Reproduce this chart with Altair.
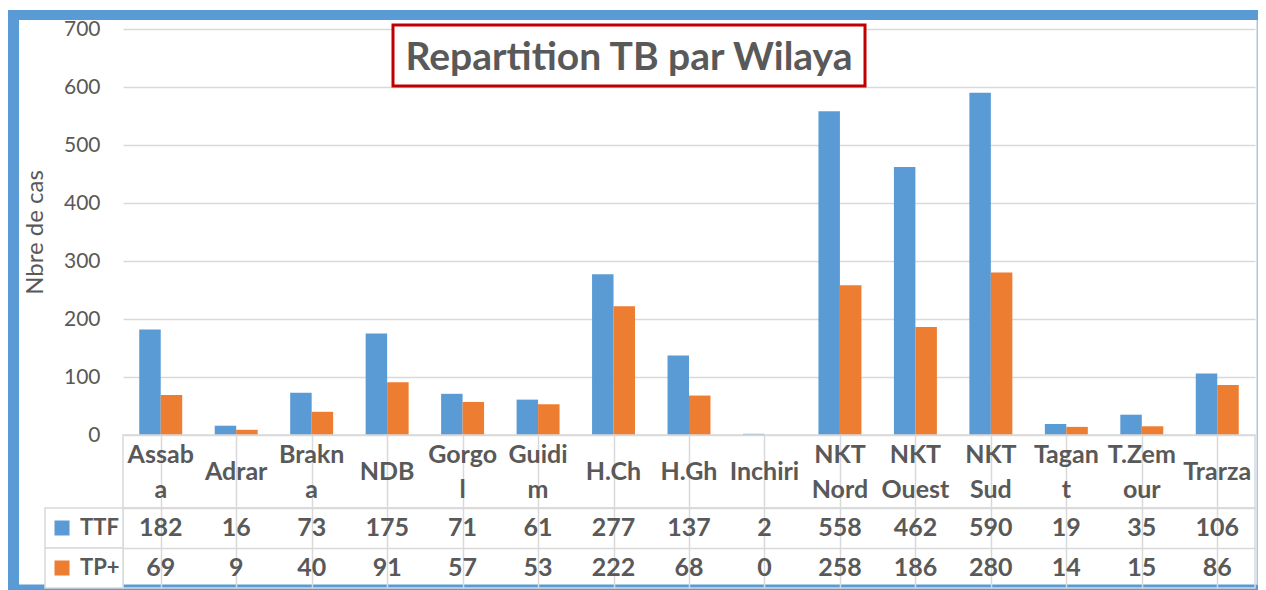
import altair as alt
import pandas as pd

categories = ["Assaba", "Adrar", "Brakna", "NDB", "Gorgol", "Guidim", "H.Ch", "H.Gh",
              "Inchiri", "NKT Nord", "NKT Ouest", "NKT Sud", "Tagant", "T.Zemour", "Trarza"]
cat_labels = ["Assab\na", "Adrar", "Brakn\na", "NDB", "Gorgo\nl", "Guidi\nm", "H.Ch", "H.Gh",
              "Inchiri", "NKT\nNord", "NKT\nOuest", "NKT\nSud", "Tagan\nt", "T.Zem\nour", "Trarza"]
series = ["TTF", "TP+"]
ttf = [182, 16, 73, 175, 71, 61, 277, 137, 2, 558, 462, 590, 19, 35, 106]
tp_plus = [69, 9, 40, 91, 57, 53, 222, 68, 0, 258, 186, 280, 14, 15, 86]
y_ticks = [0, 100, 200, 300, 400, 500, 600, 700]
chart_title = "Repartition TB par Wilaya"
y_title = "Nbre de cas"

FONT = "Lato"
TXT = "#595959"
GRID = "#D9D9D9"
BLUE = "#5B9BD5"
ORANGE = "#ED7D31"
W = 1132
H_PLOT = 406
H_LAB = 73
H_VAL = 80
TFS = 25

rows = []
for i, c in enumerate(categories):
    rows.append({"cat": c, "series": series[0], "value": ttf[i]})
    rows.append({"cat": c, "series": series[1], "value": tp_plus[i]})
long = pd.DataFrame(rows)
cat_df = pd.DataFrame({"cat": categories, "label": cat_labels})
series_df = pd.DataFrame({"series": series})
deco = pd.DataFrame({"t": [chart_title]})

xscale = alt.Scale(domain=categories, paddingInner=0, paddingOuter=0)
color = alt.Color("series:N", scale=alt.Scale(domain=series, range=[BLUE, ORANGE]), legend=None)
grid_x_axis = alt.Axis(grid=True, bandPosition=0, gridColor=GRID, gridWidth=1.5,
                       labels=False, ticks=False, domain=False, title=None)

bars = alt.Chart(long).mark_bar().encode(
    x=alt.X("cat:N", sort=categories, scale=xscale, axis=None),
    xOffset=alt.XOffset("series:N", sort=series,
                        scale=alt.Scale(domain=series, paddingInner=0, paddingOuter=0.756)),
    y=alt.Y("value:Q", scale=alt.Scale(domain=[0, 700], nice=False),
            axis=alt.Axis(values=y_ticks, title=y_title, grid=True, gridColor=GRID, gridWidth=1.5,
                          ticks=False, domain=False, labelFontSize=21, labelColor=TXT,
                          labelFont=FONT, labelPadding=23, titleFont=FONT, titleFontSize=24,
                          titleFontWeight="normal", titleColor=TXT, titleX=-88, titleY=203,
                          titleAngle=270, titleAlign="center", titleBaseline="middle")),
    color=color,
)

title_box = alt.Chart(deco).mark_rect(fill="white", stroke="#C00000", strokeWidth=3).encode(
    x=alt.value(270), x2=alt.value(742), y=alt.value(-4), y2=alt.value(57))
title_txt = alt.Chart(deco).mark_text(font=FONT, fontSize=39, fontWeight="bold", color=TXT,
                                      align="center", baseline="middle").encode(
    x=alt.value(506), y=alt.value(29), text="t:N")

b_top = alt.Chart(deco).mark_rect(color=BLUE).encode(
    x=alt.value(-115), x2=alt.value(1135), y=alt.value(-19), y2=alt.value(-9))
b_left = alt.Chart(deco).mark_rect(color=BLUE).encode(
    x=alt.value(-115), x2=alt.value(-104), y=alt.value(-19), y2=alt.value(561.5))
b_bottom = alt.Chart(deco).mark_rect(color=BLUE).encode(
    x=alt.value(-115), x2=alt.value(1135), y=alt.value(555.5), y2=alt.value(561.5))
b_right = alt.Chart(deco).mark_rect(color="#A9C6E4").encode(
    x=alt.value(1133.5), x2=alt.value(1135), y=alt.value(-9), y2=alt.value(556))

top = alt.layer(bars, title_box, title_txt, b_top, b_left, b_bottom, b_right).properties(
    width=W, height=H_PLOT, view=alt.ViewBackground(strokeOpacity=0))

lab_base = alt.Chart(cat_df).transform_calculate(
    two="indexof(datum.label, '\\n') >= 0"
)
lab_one = lab_base.transform_filter("!datum.two").mark_text(
    font=FONT, fontSize=TFS, fontWeight="bold", color=TXT, baseline="middle").encode(
    x=alt.X("cat:N", sort=categories, scale=xscale, axis=grid_x_axis),
    y=alt.value(37),
    text="label:N",
)
lab_two = lab_base.transform_filter("datum.two").mark_text(
    font=FONT, fontSize=TFS, fontWeight="bold", color=TXT, baseline="middle",
    lineBreak="\n", lineHeight=35).encode(
    x=alt.X("cat:N", sort=categories, scale=xscale, axis=grid_x_axis),
    y=alt.value(20),
    text="label:N",
)
lab_row = alt.layer(lab_one, lab_two).properties(
    width=W, height=H_LAB, view=alt.ViewBackground(stroke=GRID, strokeWidth=1.5))

yser = alt.Y("series:N", sort=series, scale=alt.Scale(domain=series, paddingInner=0, paddingOuter=0),
             axis=alt.Axis(grid=True, bandPosition=0, gridColor=GRID, gridWidth=1.5,
                           labels=False, ticks=False, domain=False, title=None))

hdr_rect = alt.Chart(series_df).mark_rect(fill="white", stroke=GRID, strokeWidth=1.5).encode(
    x=alt.value(-78), x2=alt.value(0), y=yser)
hdr_sq = alt.Chart(series_df).mark_square(size=225, opacity=1).encode(
    x=alt.value(-61), y=yser, color=color)
hdr_txt = alt.Chart(series_df).mark_text(font=FONT, fontSize=22, fontWeight="bold", color=TXT,
                                         align="left", baseline="middle").encode(
    x=alt.value(-43), y=yser, text="series:N")
val_txt = alt.Chart(long).mark_text(font=FONT, fontSize=TFS, fontWeight="bold", color=TXT,
                                    baseline="middle").encode(
    x=alt.X("cat:N", sort=categories, scale=xscale, axis=grid_x_axis),
    y=yser,
    text="value:Q",
)
val_rows = alt.layer(hdr_rect, hdr_sq, hdr_txt, val_txt).properties(
    width=W, height=H_VAL, view=alt.ViewBackground(stroke=GRID, strokeWidth=1.5))

chart = alt.vconcat(top, lab_row, val_rows, spacing=0, bounds="flush").properties(
    padding={"left": 0, "top": 2, "right": 0, "bottom": 0},
    background="white",
).configure_text(font=FONT)

chart.save("out.html", embed_options={"renderer": "svg", "actions": False})
